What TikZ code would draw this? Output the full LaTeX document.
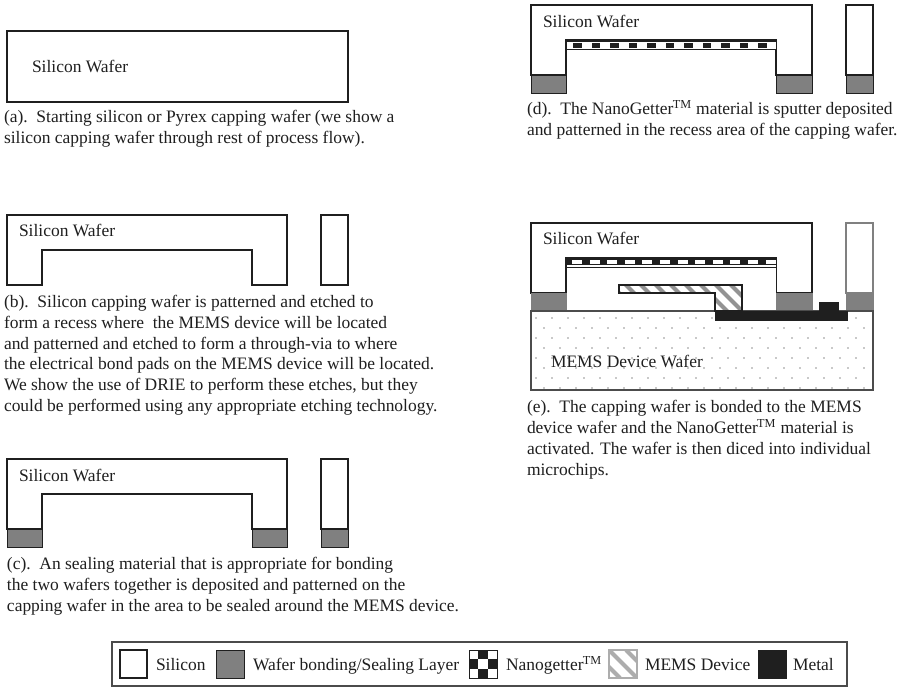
\documentclass[tikz,border=0pt]{standalone}
\usepackage{fontspec}
\setmainfont{Liberation Serif}
\definecolor{seal}{gray}{0.5}
\definecolor{ink}{gray}{0.12}
\definecolor{hatch}{gray}{0.68}
\newcommand{\tmark}{\textsuperscript{\kern-0.5pt TM}}
\tikzset{
  x=0.75pt,y=-0.75pt,
  txt/.style={anchor=base west,inner sep=0,outer sep=0,font=\fontsize{13.1pt}{13.1pt}\selectfont,text=ink},
  wall/.style={draw=ink,line width=1.2pt,line join=miter,fill=white},
  thin wall/.style={draw=ink,line width=0.8pt,fill=white},
  sealbox/.style={draw=ink,line width=0.7pt,fill=seal},
  metal/.style={draw=ink,line width=0.5pt,fill=ink},
}
\newcommand{\capwafer}[5]{%
  \draw[wall] (#1,#4) -- (#3,#4) -- (#3,#5+35) -- (#2,#5+35) -- (#2,#5) -- (#1+35,#5) -- (#1+35,#5+35) -- (#1,#5+35) -- cycle;}
\begin{document}
\begin{tikzpicture}
\useasboundingbox (0,0) rectangle (901,687);
\fill[white] (0,0) rectangle (901,687);

% (a)
\draw[wall,line width=1.1pt] (7,31) rectangle (348,102);
\node[txt] (ta) at (32,72) {Silicon Wafer};
\node[txt] (ca1) at (4,122) {(a).\ \ Starting silicon or Pyrex capping wafer (we show a};
\node[txt] (ca2) at (4,143) {silicon capping wafer through rest of process flow).};

% (b)
\capwafer{7}{252}{287}{215}{250}
\draw[thin wall] (321,215) rectangle (348,285);
\node[txt] (tb) at (19,236) {Silicon Wafer};
\node[txt] (cb1) at (4,307) {(b).\ \ Silicon capping wafer is patterned and etched to};
\node[txt] (cb2) at (4,328) {form a recess where\ \ the MEMS device will be located};
\node[txt] (cb3) at (4,349) {and patterned and etched to form a through-via to where};
\node[txt] (cb4) at (4,369) {the electrical bond pads on the MEMS device will be located.};
\node[txt] (cb5) at (4,390) {We show the use of DRIE to perform these etches, but they};
\node[txt] (cb6) at (4,411) {could be performed using any appropriate etching technology.};

% (c)
\capwafer{7}{252}{287}{459}{494}
\draw[thin wall] (321,459) rectangle (348,529);
\foreach \a/\b in {7/42,252/287,321/348}{\draw[sealbox] (\a,529) rectangle (\b,547);}
\node[txt] (tc) at (19,481) {Silicon Wafer};
\node[txt] (cc1) at (7,569) {(c).\ \ An sealing material that is appropriate for bonding};
\node[txt] (cc2) at (7,590) {the two wafers together is deposited and patterned on the};
\node[txt] (cc3) at (7,611) {capping wafer in the area to be sealed around the MEMS device.};

% (d)
\capwafer{531}{776}{812}{5}{40}
\draw[thin wall] (846,5) rectangle (873,75);
\foreach \a/\b in {531/566,776/812,846/873}{\draw[sealbox] (\a,75) rectangle (\b,93);}
\draw[draw=ink,line width=0.6pt,fill=white] (566,41) rectangle (776,49);
\foreach \i in {0,...,10}{\fill[ink] (573+\i*18.5,42.5) rectangle (581.5+\i*18.5,48);}
\node[txt] (td) at (543,27) {Silicon Wafer};
\node[txt] (cd1) at (527,114) {(d).\ \ The NanoGetter\tmark\ material is sputter deposited};
\node[txt] (cd2) at (527,135) {and patterned in the recess area of the capping wafer.};

% (e)
\capwafer{531}{776.5}{812}{223}{258}
\draw[thin wall,draw=gray] (846,223) rectangle (873,293);
\foreach \a/\b in {531/566,776/812,846/873}{\draw[sealbox,draw=seal] (\a,293) rectangle (\b,311);}
\draw[draw=ink,line width=0.5pt,fill=white] (566,258) rectangle (776.5,267);
\fill[ink] (566,258) rectangle (776.5,265);
\foreach \i in {0,...,11}{\fill[white] (572+\i*17.6,260) rectangle (582+\i*17.6,264);}
\draw[draw=black!70,line width=0.8pt,fill=white] (531,311) rectangle (873,390);
\foreach \r in {0,...,7}{
  \pgfmathsetmacro{\yy}{318+\r*10}
  \pgfmathsetmacro{\xs}{isodd(\r)?544:536}
  \foreach \c in {0,...,20}{
    \fill[gray!85] ({\xs+\c*16},\yy) circle[radius=0.6pt];
  }
}
% MEMS device
\begin{scope}
  \clip (619,285) -- (742,285) -- (742,311) -- (715,311) -- (715,293) -- (619,293) -- cycle;
  \fill[white] (619,285) rectangle (742,311);
  \foreach \i in {0,...,10}{
    \draw[gray!85,line width=3pt] (606+\i*15,280) -- (646+\i*15,320);
  }
\end{scope}
\draw[ink,line width=1.2pt] (619,285) -- (742,285) -- (742,311) -- (715,311) -- (715,293) -- (619,293) -- cycle;
\draw[metal] (715,311) rectangle (847,320);
\draw[metal] (819,302) rectangle (838,311);
\node[txt] (te) at (543,244) {Silicon Wafer};
\node[txt] (tm) at (551,367) {MEMS Device Wafer};
\node[txt] (ce1) at (527,412) {(e).\ \ The capping wafer is bonded to the MEMS};
\node[txt] (ce2) at (527,433) {device wafer and the NanoGetter\tmark\ material is};
\node[txt] (ce3) at (527,454) {activated. The wafer is then diced into individual};
\node[txt] (ce4) at (527,475) {microchips.};

% legend
\draw[draw=ink!80,line width=0.8pt,fill=white] (112,642) rectangle (847,686);
\draw[thin wall] (120,650) rectangle (147,678);
\node[txt] (l1) at (156,670) {Silicon};
\draw[sealbox] (216,650) rectangle (244,678);
\node[txt] (l2) at (253,670) {Wafer bonding/Sealing Layer};
\draw[draw=ink,line width=0.6pt,fill=white] (469,650) rectangle (497,678);
\foreach \cx/\cy in {478.3/650,469/659.3,487.6/659.3,478.3/668.6}{\fill[ink] (\cx,\cy) rectangle (\cx+9.3,\cy+9.4);}
\node[txt] (l3) at (506,670) {Nanogetter\tmark};
\begin{scope}
  \clip (609,650) rectangle (637,678);
  \fill[white] (609,650) rectangle (637,678);
  \foreach \i in {-1,...,1}{\draw[hatch,line width=3pt] (609+\i*17,650) -- (637+\i*17,678);}
\end{scope}
\draw[draw=hatch,line width=0.8pt] (609,650) rectangle (637,678);
\node[txt] (l4) at (645,670) {MEMS Device};
\draw[metal] (758,650) rectangle (786,678);
\node[txt] (l5) at (793,670) {Metal};
\end{tikzpicture}
\end{document}
